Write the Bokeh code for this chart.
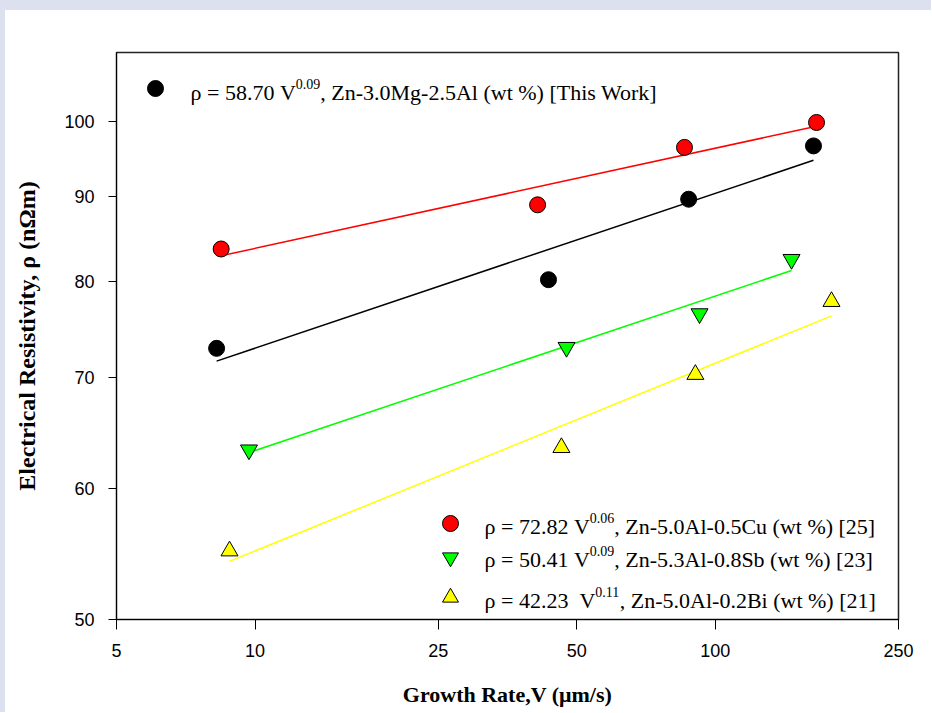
import numpy as np
from bokeh.plotting import figure
from bokeh.models import FixedTicker, Label, Legend, LegendItem, Range1d
from bokeh.core.properties import value
from bokeh.embed import file_html
from bokeh.resources import INLINE

# ---- data ----
v_this = [8.25, 43.4, 87.5, 163.4]
rho_this = [72.9, 80.2, 89.7, 96.6]

v_cu = [8.44, 41.1, 85.7, 165.9]
rho_cu = [83.7, 89.0, 96.4, 99.8]

v_sb = [9.7, 47.5, 92.4, 146.4]
rho_sb = [63.3, 73.0, 76.5, 82.5]

v_bi = [8.8, 46.3, 90.5, 178.8]
rho_bi = [55.0, 63.5, 70.3, 77.8]

x_ticks = [5, 10, 25, 50, 100, 250]
y_ticks = [50, 60, 70, 80, 90, 100]

labels_main = ["ρ = 58.70 V", "ρ = 72.82 V", "ρ = 50.41 V", "ρ = 42.23\u00a0 V"]
labels_sup = ["0.09", "0.06", "0.09", "0.11"]
labels_rest = [", Zn-3.0Mg-2.5Al (wt %) [This Work]",
               ", Zn-5.0Al-0.5Cu (wt %) [25]",
               ", Zn-5.3Al-0.8Sb (wt %) [23]",
               ", Zn-5.0Al-0.2Bi (wt %) [21]"]

p = figure(frame_width=782, frame_height=567,
           x_axis_type="log", y_axis_type="log",
           x_range=Range1d(5, 250), y_range=Range1d(50, 110),
           output_backend="svg", toolbar_location=None,
           min_border_left=111, min_border_right=33,
           min_border_top=42, min_border_bottom=93,
           background_fill_color="white", border_fill_color="white")

# lavender page strips (left and top) as in the reference
p.styles = {"border-left": "5px solid #DDE0EF", "border-top": "10px solid #DDE0EF"}

p.xgrid.visible = False
p.ygrid.visible = False
p.outline_line_color = "#222222"
p.outline_line_width = 1.5

for ax in (p.xaxis[0], p.yaxis[0]):
    ax.axis_line_color = "black"
    ax.axis_line_width = 1
    ax.major_tick_line_color = "black"
    ax.major_tick_in = 0
    ax.minor_tick_line_color = None
    ax.major_label_text_font = "Liberation Sans"
    ax.major_label_text_font_size = "18px"
    ax.major_label_text_color = "black"
    ax.axis_label_text_font = "Liberation Serif"
    ax.axis_label_text_font_style = "bold"
    ax.axis_label_text_color = "black"

p.xaxis.ticker = FixedTicker(ticks=x_ticks)
p.yaxis.ticker = FixedTicker(ticks=y_ticks)
p.xaxis.major_label_overrides = {t: str(t) for t in x_ticks}
p.yaxis.major_label_overrides = {t: str(t) for t in y_ticks}
p.xaxis.major_tick_out = 10
p.yaxis.major_tick_out = 8
p.xaxis.major_label_standoff = 14
p.yaxis.major_label_standoff = 14
p.xaxis.axis_label = "Growth Rate,V (μm/s)"
p.yaxis.axis_label = "Electrical Resistivity, ρ (nΩm)"
p.xaxis.axis_label_text_font_size = "22px"
p.yaxis.axis_label_text_font_size = "24px"
p.xaxis.axis_label_standoff = 22
p.yaxis.axis_label_standoff = 21

series = [
    (v_this, rho_this, "circle", "black", "black", 16),
    (v_cu, rho_cu, "circle", "#FF0000", "black", 16),
    (v_sb, rho_sb, "inverted_triangle", "#00FF00", "black", 17),
    (v_bi, rho_bi, "triangle", "#FFFF00", "black", 17),
]

line_colors = ["black", "#FF0000", "#00FF00", "#FFFF00"]
scatter_renderers = []
for (vx, vy, marker, fill, edge, size), lc in zip(series, line_colors):
    lx = np.log10(vx)
    ly = np.log10(vy)
    b, a = np.polyfit(lx, ly, 1)
    xs = [min(vx), max(vx)]
    ys = [10 ** (a + b * np.log10(x)) for x in xs]
    p.line(xs, ys, line_color=lc, line_width=1.5)

for (vx, vy, marker, fill, edge, size) in series:
    r = p.scatter(vx, vy, marker=marker, size=size, fill_color=fill,
                  line_color=edge, line_width=1)
    scatter_renderers.append(r)

# legend glyphs (one legend per entry; texts drawn separately for superscripts)
common = dict(padding=0, margin=0, border_line_color=None,
              background_fill_alpha=0, glyph_width=40, glyph_height=40,
              label_text_font_size="1px", label_standoff=0,
              label_width=0, label_height=0, spacing=0)
legend_locs = [(19, 511), (314, 76), (314, 42), (314, 2)]
for r, loc in zip(scatter_renderers, legend_locs):
    p.add_layout(Legend(items=[LegendItem(label=value(" "), renderers=[r])],
                        location=loc, **common))

# legend texts
fs_main = 22
fs_sup = 14
em_main = [4.786, 4.786, 4.786, 5.036]
text_x = [74, 368, 368, 368]
text_y = [527, 93, 60, 19]
for i in range(4):
    x0 = text_x[i]
    y0 = text_y[i]
    w1 = em_main[i] * fs_main
    w2 = 1.75 * fs_sup
    p.add_layout(Label(x=x0, y=y0, x_units="screen", y_units="screen",
                       text=labels_main[i], text_font="Liberation Serif",
                       text_font_size=f"{fs_main}px", text_color="black",
                       text_baseline="alphabetic", text_align="left"))
    p.add_layout(Label(x=x0 + w1, y=y0 + 9, x_units="screen", y_units="screen",
                       text=labels_sup[i], text_font="Liberation Serif",
                       text_font_size=f"{fs_sup}px", text_color="black",
                       text_baseline="alphabetic", text_align="left"))
    p.add_layout(Label(x=x0 + w1 + w2, y=y0, x_units="screen", y_units="screen",
                       text=labels_rest[i], text_font="Liberation Serif",
                       text_font_size=f"{fs_main}px", text_color="black",
                       text_baseline="alphabetic", text_align="left"))

open("out.html", "w").write(file_html(p, INLINE))
